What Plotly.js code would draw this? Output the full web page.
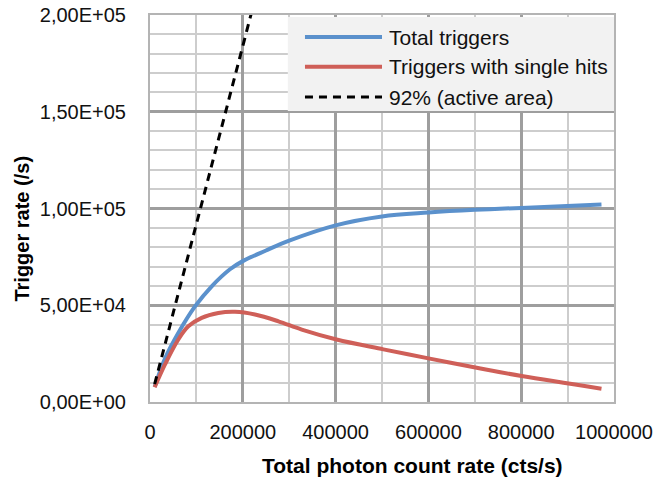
<!DOCTYPE html>
<html>
<head>
<meta charset="utf-8">
<script src="https://cdn.plot.ly/plotly-3.0.1.min.js"></script>
<style>html,body{margin:0;padding:0;background:#fff;}#chart{width:662px;height:478px;}</style>
</head>
<body>
<div id="chart"></div>
<script>
// Data
const totalX = [10000, 32300, 61000, 97000, 133000, 172400, 200000, 250000, 300000, 400000, 500000, 600000, 700000, 800000, 973000];
const totalY = [7800, 22500, 35700, 49400, 59800, 68600, 72800, 78300, 83400, 91300, 95900, 97900, 99300, 100300, 102100];
const singleX = [10000, 32300, 61000, 82600, 111400, 147300, 183200, 226300, 276700, 327000, 402000, 503000, 603000, 704000, 801000, 973000];
const singleY = [7600, 19400, 32300, 39100, 43500, 46000, 46600, 45200, 41700, 37400, 32300, 27200, 22400, 17700, 13400, 6900];
const activeX = [10000, 220000];
const activeY = [9200, 202400];

const seriesNames = ['Total triggers', 'Triggers with single hits', '92% (active area)'];
const xTitle = 'Total photon count rate (cts/s)';
const yTitle = 'Trigger rate (/s)';
const xTickVals = [0, 200000, 400000, 600000, 800000, 1000000];
const xTickText = ['0', '200000', '400000', '600000', '800000', '1000000'];
const yTickVals = [0, 50000, 100000, 150000, 200000];
const yTickText = ['0,00E+00', '5,00E+04', '1,00E+05', '1,50E+05', '2,00E+05'];

const blue = '#5b91cc';
const red = '#cf5f58';
const FONT = 'Liberation Sans, Arial, sans-serif';

const traces = [
  {x: totalX, y: totalY, name: seriesNames[0], mode: 'lines', line: {color: blue, width: 4, shape: 'spline', smoothing: 1}},
  {x: singleX, y: singleY, name: seriesNames[1], mode: 'lines', line: {color: red, width: 4, shape: 'spline', smoothing: 1}},
  {x: activeX, y: activeY, name: seriesNames[2], mode: 'lines', line: {color: '#000', width: 3, dash: '8px,6px'}}
];

// Manual legend (box, samples, labels) in paper coordinates
const legRows = [0.943, 0.866, 0.788];
const legColors = [blue, red, '#000'];
const legDash = ['solid', 'solid', '8px,6px'];
const legWidth = [4, 4, 3];
const shapes = [{type: 'rect', xref: 'paper', yref: 'paper', x0: 0.297, x1: 1.0, y0: 0.752, y1: 0.995,
  fillcolor: '#f2f2f2', line: {width: 0}, layer: 'above'}];
const annotations = [];
legRows.forEach((yy, i) => {
  shapes.push({type: 'line', xref: 'paper', yref: 'paper', x0: 0.334, x1: 0.5, y0: yy, y1: yy,
    line: {color: legColors[i], width: legWidth[i], dash: legDash[i]}, layer: 'above'});
  annotations.push({xref: 'paper', yref: 'paper', x: 0.51, y: yy, xanchor: 'left', yanchor: 'middle',
    text: seriesNames[i], showarrow: false, font: {family: FONT, size: 21, color: '#111'}});
});
// Axis titles (placed as in the reference)
annotations.push({xref: 'paper', yref: 'paper', x: 0.566, y: -0.163, xanchor: 'center', yanchor: 'middle',
  text: '<b>' + xTitle + '</b>', showarrow: false, font: {family: FONT, size: 21, color: '#000'}});
annotations.push({xref: 'paper', yref: 'paper', x: -0.276, y: 0.448, xanchor: 'center', yanchor: 'middle',
  textangle: -90, text: '<b>' + yTitle + '</b>', showarrow: false, font: {family: FONT, size: 20, color: '#000'}});

const layout = {
  width: 662, height: 478,
  margin: {l: 150, r: 48, t: 15, b: 76},
  paper_bgcolor: '#fff', plot_bgcolor: '#fff',
  showlegend: false,
  font: {family: FONT, color: '#111'},
  xaxis: {
    range: [0, 1000000], tickmode: 'array', tickvals: xTickVals, ticktext: xTickText,
    tickfont: {size: 20, color: '#111'}, ticks: '', ticklabelstandoff: 11,
    showgrid: true, gridcolor: '#9e9e9e', gridwidth: 3,
    minor: {tickmode: 'linear', tick0: 0, dtick: 100000, showgrid: true, gridcolor: '#cdcdcd', gridwidth: 2},
    showline: true, linecolor: '#b4b4b4', linewidth: 2, mirror: true, zeroline: false
  },
  yaxis: {
    range: [0, 200000], tickmode: 'array', tickvals: yTickVals, ticktext: yTickText,
    tickfont: {size: 20, color: '#111'}, ticks: '', ticklabelstandoff: 18,
    showgrid: true, gridcolor: '#9e9e9e', gridwidth: 3,
    minor: {tickmode: 'linear', tick0: 0, dtick: 10000, showgrid: true, gridcolor: '#cdcdcd', gridwidth: 2},
    showline: true, linecolor: '#b4b4b4', linewidth: 2, mirror: true, zeroline: false
  },
  shapes: shapes,
  annotations: annotations
};

Plotly.newPlot('chart', traces, layout, {displayModeBar: false, staticPlot: true});
</script>
</body>
</html>
